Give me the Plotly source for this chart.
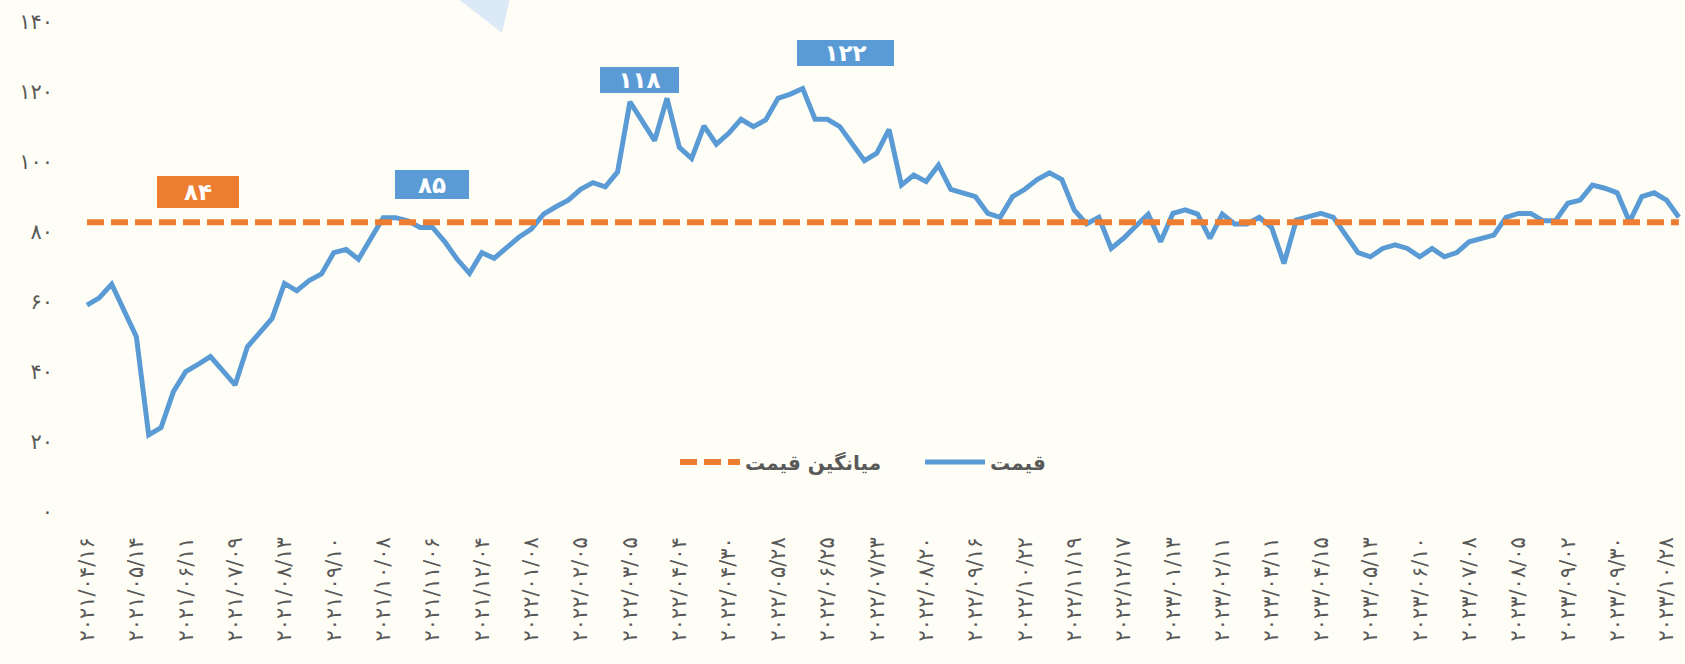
import plotly.graph_objects as go

# ---------------- data ----------------
price = [
    59.1, 61.2, 65.1, 57.9, 50.1, 22.0, 24.1, 34.4, 40.1, 42.2,
    44.4, 40.4, 36.3, 47.2, 51.0, 55.3, 65.3, 63.2, 66.1, 68.0,
    74.1, 75.0, 72.2, 78.2, 84.1, 84.1, 83.2, 81.3, 81.3, 77.2,
    72.2, 68.2, 74.1, 72.5, 75.5, 78.5, 80.8, 85.1, 87.2, 89.1,
    92.2, 94.1, 92.9, 97.2, 117.2, 111.5, 106.1, 118.2, 104.2, 101.0,
    110.3, 105.1, 108.2, 112.2, 110.1, 112.0, 118.2, 119.4, 121.0, 112.2,
    112.2, 110.1, 105.1, 100.4, 102.5, 109.3, 93.4, 96.3, 94.4, 99.1,
    92.2, 91.2, 90.1, 85.3, 84.2, 90.1, 92.2, 95.0, 96.9, 95.0,
    86.3, 82.3, 84.2, 75.3, 78.2, 81.7, 85.1, 77.2, 85.3, 86.3,
    85.1, 78.2, 85.1, 82.3, 82.3, 84.2, 81.3, 71.0, 83.4, 84.4,
    85.3, 84.2, 79.1, 74.1, 72.9, 75.3, 76.3, 75.3, 72.9, 75.3,
    72.9, 74.1, 77.2, 78.2, 79.1, 84.2, 85.3, 85.3, 83.2, 83.2,
    88.2, 89.1, 93.4, 92.5, 91.2, 82.9, 90.1, 91.2, 89.1, 84.2,
]
mean_price = 82.8

date_labels = [
    "۲۰۲۱/۰۴/۱۶", "۲۰۲۱/۰۵/۱۴", "۲۰۲۱/۰۶/۱۱", "۲۰۲۱/۰۷/۰۹", "۲۰۲۱/۰۸/۱۳",
    "۲۰۲۱/۰۹/۱۰", "۲۰۲۱/۱۰/۰۸", "۲۰۲۱/۱۱/۰۶", "۲۰۲۱/۱۲/۰۴", "۲۰۲۲/۰۱/۰۸",
    "۲۰۲۲/۰۲/۰۵", "۲۰۲۲/۰۳/۰۵", "۲۰۲۲/۰۴/۰۴", "۲۰۲۲/۰۴/۳۰", "۲۰۲۲/۰۵/۲۸",
    "۲۰۲۲/۰۶/۲۵", "۲۰۲۲/۰۷/۲۳", "۲۰۲۲/۰۸/۲۰", "۲۰۲۲/۰۹/۱۶", "۲۰۲۲/۱۰/۲۲",
    "۲۰۲۲/۱۱/۱۹", "۲۰۲۲/۱۲/۱۷", "۲۰۲۳/۰۱/۱۳", "۲۰۲۳/۰۲/۱۱", "۲۰۲۳/۰۳/۱۱",
    "۲۰۲۳/۰۴/۱۵", "۲۰۲۳/۰۵/۱۳", "۲۰۲۳/۰۶/۱۰", "۲۰۲۳/۰۷/۰۸", "۲۰۲۳/۰۸/۰۵",
    "۲۰۲۳/۰۹/۰۲", "۲۰۲۳/۰۹/۳۰", "۲۰۲۳/۱۰/۲۸",
]
label_step = 4

y_tickvals = [0, 20, 40, 60, 80, 100, 120, 140]
y_ticktext = ["۰", "۲۰", "۴۰", "۶۰", "۸۰", "۱۰۰", "۱۲۰", "۱۴۰"]

series_names = ["قیمت", "میانگین قیمت"]

callout_texts = ["۸۴", "۸۵", "۱۱۸", "۱۲۲"]

# ---------------- styling ----------------
BG = "#fffef6"
BLUE = "#5b9bd5"
ORANGE = "#ed7d31"
GREY = "#595959"
FONT = "DejaVu Sans"

W, H = 1685, 664
ML, MR, MT, MB = 54, 0, 22, 152

n = len(price)
xs = list(range(n))

fig = go.Figure()
fig.add_trace(go.Scatter(
    x=xs, y=price, mode="lines", name=series_names[0],
    line=dict(color=BLUE, width=5),
    hoverinfo="skip",
))
fig.add_trace(go.Scatter(
    x=[xs[0], xs[-1]], y=[mean_price, mean_price], mode="lines", name=series_names[1],
    line=dict(color=ORANGE, width=6, dash="17px,7px"),
    hoverinfo="skip",
))

# callout boxes (center x index, center y value, width px, height px, colour)
callouts = [
    (9.0, 91.4, 82, 32, ORANGE),
    (27.96, 93.6, 74, 29, BLUE),
    (44.8, 123.4, 79, 26, BLUE),
    (61.5, 131.1, 97, 26, BLUE),
]
annotations = []
for (cx, cy, bw, bh, col), txt in zip(callouts, callout_texts):
    annotations.append(dict(
        x=cx, y=cy, xref="x", yref="y", text="<b>%s</b>" % txt, showarrow=False,
        width=bw, height=bh, bgcolor=col, borderpad=0, borderwidth=0,
        font=dict(family=FONT, size=23, color="white"),
        xanchor="center", yanchor="middle", align="center", valign="middle",
    ))

px_per = 12.34
x_left = -(87 - ML) / px_per
x_right = x_left + (W - ML - MR) / px_per

plot_w = W - ML - MR
plot_h = H - MT - MB


def pxx(v):
    return (v - ML) / plot_w


def pxy(v):
    return (H - MB - v) / plot_h


# decorative pale triangle at top
tri = "M %f %f L %f %f L %f %f Z" % (pxx(457), pxy(-2), pxx(510), pxy(-2), pxx(502), pxy(33))

fig.update_layout(
    width=W, height=H,
    margin=dict(l=ML, r=MR, t=MT, b=MB, pad=0),
    paper_bgcolor=BG, plot_bgcolor=BG,
    font=dict(family=FONT, color=GREY),
    showlegend=True,
    legend=dict(
        orientation="h", x=pxx(675), xanchor="left", y=pxy(462), yanchor="middle",
        traceorder="reversed", bgcolor="rgba(0,0,0,0)",
        font=dict(family=FONT, size=20, color=GREY, weight="bold"),
        itemwidth=60, entrywidth=170, entrywidthmode="pixels",
    ),
    annotations=annotations,
    shapes=[dict(type="path", path=tri, xref="paper", yref="paper",
                 fillcolor="#dce9f7", line=dict(width=0), layer="above")],
    xaxis=dict(
        range=[x_left, x_right], showgrid=False, zeroline=False, showline=False,
        tickmode="array", tickvals=xs[::label_step], ticktext=date_labels,
        tickangle=-90, ticks="", ticklabelstandoff=20,
        tickfont=dict(family=FONT, size=21, color=GREY),
    ),
    yaxis=dict(
        range=[0, 140], showgrid=False, zeroline=False, showline=False,
        tickmode="array", tickvals=y_tickvals, ticktext=y_ticktext, ticks="",
        tickfont=dict(family=FONT, size=21, color=GREY),
    ),
)

fig.write_html(
    "out.html",
    config={"displayModeBar": False},
    post_script="document.body.style.margin='0';document.body.style.overflow='hidden';",
)
